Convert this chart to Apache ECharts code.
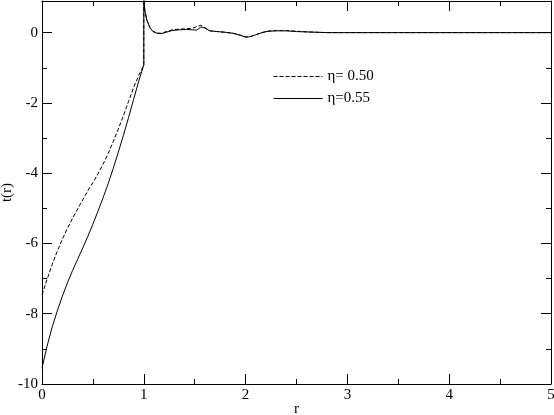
<!DOCTYPE html>
<html>
<head>
<meta charset="utf-8">
<script src="https://cdn.jsdelivr.net/npm/echarts@6/dist/echarts.min.js"></script>
<style>
  html, body { margin: 0; padding: 0; background: #fff; }
  #chart { width: 554px; height: 415px; }
</style>
</head>
<body>
<div id="chart"></div>
<script>
// r grid shared by both curves
var rVals = [0, 0.05, 0.1, 0.15, 0.2, 0.25, 0.3, 0.35, 0.4, 0.45, 0.5,
    0.55, 0.6, 0.65, 0.7, 0.75, 0.8, 0.85, 0.9, 0.95, 1.0,
    1.0, 1.01, 1.03, 1.06, 1.09, 1.13, 1.17, 1.22, 1.28, 1.35, 1.42, 1.48,
    1.52, 1.56, 1.6, 1.65, 1.72, 1.8, 1.88, 1.95, 2.0, 2.04, 2.1, 2.16,
    2.22, 2.3, 2.4, 2.5, 2.6, 2.8, 3.0, 3.5, 4.0, 4.5, 5.0];

// eta = 0.50 (dashed)
var tEta50 = [-7.46, -7.02, -6.6, -6.22, -5.88, -5.57, -5.28, -5.02, -4.76, -4.5, -4.27,
    -4.02, -3.74, -3.44, -3.1, -2.74, -2.36, -1.96, -1.56, -1.22, -0.92,
    1.0, 0.62, 0.36, 0.14, 0.04, -0.01, -0.02, 0.03, 0.08, 0.1, 0.11, 0.13,
    0.17, 0.21, 0.14, 0.05, 0.03, 0.01, -0.02, -0.07, -0.12, -0.12, -0.06, 0.0,
    0.04, 0.06, 0.06, 0.04, 0.02, 0.0, 0, 0, 0, 0, 0];

// eta = 0.55 (solid)
var tEta55 = [-9.55, -8.92, -8.38, -7.92, -7.5, -7.12, -6.77, -6.45, -6.13, -5.8, -5.45,
    -5.08, -4.7, -4.3, -3.86, -3.4, -2.92, -2.42, -1.9, -1.38, -0.92,
    1.0, 0.62, 0.36, 0.14, 0.03, -0.02, -0.03, 0.01, 0.06, 0.08, 0.09, 0.08,
    0.07, 0.16, 0.13, 0.05, 0.03, 0.01, -0.02, -0.08, -0.13, -0.12, -0.06, 0.0,
    0.04, 0.05, 0.05, 0.03, 0.02, 0.0, 0, 0, 0, 0, 0];

var seriesNames = ['η= 0.50', 'η=0.55'];

function pairs(ys) {
    return rVals.map(function (r, i) { return [r, ys[i]]; });
}

var font = 'Liberation Serif';
var black = '#000';

function xAx(pos, showLabel) {
    return {
        type: 'value', position: pos, min: 0, max: 5, interval: 1,
        name: showLabel ? 'r' : '', nameLocation: 'middle', nameGap: 18,
        nameMoveOverlap: false,
        nameTextStyle: { fontFamily: font, fontSize: 15, color: black },
        axisLine: { show: true, onZero: false, lineStyle: { color: black, width: 1 } },
        axisTick: { show: true, inside: true, length: 10, lineStyle: { color: black } },
        minorTick: { show: true, splitNumber: 2, length: 5, lineStyle: { color: black } },
        axisLabel: { show: showLabel, margin: 4, fontFamily: font, fontSize: 15, color: black },
        splitLine: { show: false }
    };
}

function yAx(pos, showLabel) {
    return {
        type: 'value', position: pos, min: -10, max: 0.9, interval: 2,
        name: showLabel ? 't(r)' : '', nameLocation: 'middle', nameGap: 27,
        nameMoveOverlap: false,
        nameTextStyle: { fontFamily: font, fontSize: 15, color: black },
        axisLine: { show: true, onZero: false, lineStyle: { color: black, width: 1 } },
        axisTick: { show: true, inside: true, length: 10, lineStyle: { color: black } },
        minorTick: { show: true, splitNumber: 2, length: 5, lineStyle: { color: black } },
        axisLabel: { show: showLabel, showMaxLabel: false, margin: 4, fontFamily: font, fontSize: 15, color: black },
        splitLine: { show: false }
    };
}

var myChart = echarts.init(document.getElementById('chart'));
var option = {
    backgroundColor: '#fff',
    animation: false,
    grid: { left: 42, right: 3, top: 1, bottom: 31, containLabel: false, outerBoundsMode: 'none' },
    legend: {
        orient: 'vertical', left: 273, top: 69, padding: 0,
        itemWidth: 49, itemHeight: 14, itemGap: 7,
        itemStyle: { opacity: 0, borderWidth: 0 },
        lineStyle: { width: 1 },
        textStyle: { fontFamily: font, fontSize: 15, color: black },
        data: seriesNames
    },
    xAxis: [xAx('bottom', true), xAx('top', false)],
    yAxis: [yAx('left', true), yAx('right', false)],
    series: [{
        name: seriesNames[0], type: 'line', symbol: 'none',
        lineStyle: { color: black, width: 1, type: [4, 2] },
        itemStyle: { color: black },
        data: pairs(tEta50)
    }, {
        name: seriesNames[1], type: 'line', symbol: 'none',
        lineStyle: { color: black, width: 1 },
        itemStyle: { color: black },
        data: pairs(tEta55)
    }]
};
myChart.setOption(option);
</script>
</body>
</html>
